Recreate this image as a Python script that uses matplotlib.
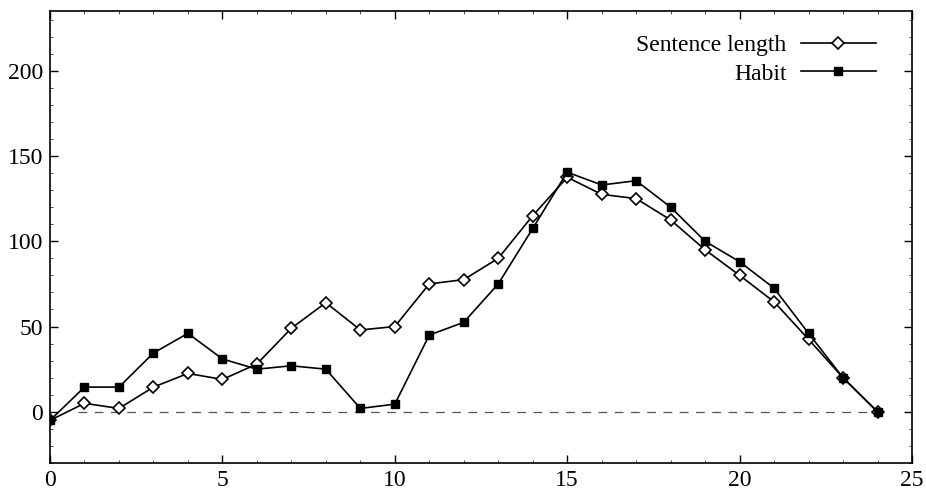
import matplotlib
matplotlib.use("Agg")
import matplotlib.pyplot as plt
from matplotlib.ticker import MultipleLocator

plt.rcParams['font.family'] = ['Liberation Serif', 'DejaVu Serif']
plt.rcParams['font.size'] = 17

# data
x = list(range(25))
sentence = [-5, 5, 2, 14.5, 22.5, 19, 28, 49, 64, 48, 50, 75, 77.5, 90, 115,
            137.5, 127.5, 125, 112.5, 95, 80, 64.5, 42.5, 20, 0]
habit = [-5, 14.5, 14.5, 34.5, 46, 31, 25, 27, 25, 2, 4.5, 45, 52.5, 75, 107.5,
         140.5, 133, 135.5, 120, 100, 88, 72.5, 46, 20, 0]
xticks = [0, 5, 10, 15, 20, 25]
yticks = [0, 50, 100, 150, 200]

fig = plt.figure(figsize=(9.26, 4.9), dpi=100)
ax = fig.add_axes([50/926, 1-463/490, 862/926, 452/490])

# dashed zero line
ax.hlines(0, 0.8, 24, colors='#555555', linestyles=(0, (7, 6)), linewidth=0.9)

ax.plot(x, sentence, color='black', lw=1.2, marker='D', ms=6.5,
        mfc='white', mec='black', mew=1.2, label='Sentence length')
ax.plot(x, habit, color='black', lw=1.2, marker='s', ms=6,
        mfc='black', mec='black', label='Habit')

ax.set_xlim(0, 25)
ax.set_ylim(-30, 235)
ax.set_xticks(xticks)
ax.set_yticks(yticks)
ax.xaxis.set_minor_locator(MultipleLocator(1))
ax.yaxis.set_minor_locator(MultipleLocator(10))
ax.tick_params(which='both', direction='in', top=True, right=True)
ax.tick_params(which='major', length=6, width=1, labelsize=17, pad=5)
ax.tick_params(which='minor', length=2, width=0.5)
for s in ax.spines.values():
    s.set_linewidth(1.2)

ax.legend(loc='upper right', bbox_to_anchor=(0.983, 0.995), frameon=False,
          markerfirst=False, handlelength=3.2, handletextpad=0.6,
          labelspacing=0.3, fontsize=17, numpoints=1)

fig.savefig('out.png', dpi=100)
